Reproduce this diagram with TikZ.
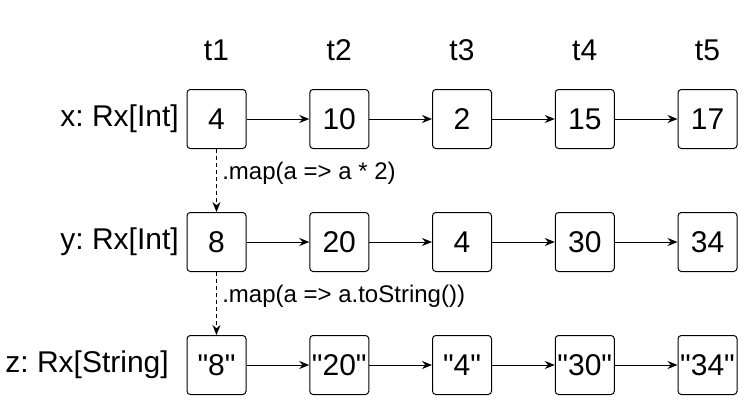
\documentclass[tikz,border=0pt]{standalone}
\usepackage{fontspec}
\setmainfont{Liberation Sans}[Ligatures=TeXOff]
\usetikzlibrary{arrows.meta}
\frenchspacing

\begin{document}
\begin{tikzpicture}[
    x=0.75pt, y=-0.75pt,
    font=\fontsize{22.5}{26}\selectfont,
    cell/.style={draw, line width=0.75pt, rounded corners=2.5pt, minimum size=44.25pt, inner sep=0pt},
    flow/.style={line width=0.75pt, -{Stealth[length=7.5pt, width=6pt, inset=2.5pt]}},
    mapflow/.style={flow, dash pattern=on 3pt off 2.25pt},
    maplabel/.style={anchor=west, inner sep=0pt, font=\fontsize{18}{21}\selectfont},
]
\useasboundingbox (0,0) rectangle (753,411);

% Grid parameters
\def\colw{122.75} % distance between time steps
\def\rowh{123}    % distance between streams
\def\xo{216.5}
\def\yo{119}

% Time labels
\foreach \c in {1,...,5} {
    \node (t\c) at ({\xo+(\c-1)*\colw}, 50) {t\c};
}

% Stream labels
\node[anchor=east, inner sep=0pt] (xlbl) at (179, \yo) {x: Rx[Int]};
\node[anchor=east, inner sep=0pt] (ylbl) at (179, \yo+\rowh) {y: Rx[Int]};
\node[anchor=east, inner sep=0pt] (zlbl) at (169, \yo+2*\rowh) {z: Rx[String]};

% x stream
\foreach \c/\val in {1/4, 2/10, 3/2, 4/15, 5/17} {
    \node[cell] (x\c) at ({\xo+(\c-1)*\colw}, \yo) {\val};
}

% y stream
\foreach \c/\val in {1/8, 2/20, 3/4, 4/30, 5/34} {
    \node[cell] (y\c) at ({\xo+(\c-1)*\colw}, \yo+\rowh) {\val};
}

% z stream
\foreach \c/\val in {1/"8", 2/"20", 3/"4", 4/"30", 5/"34"} {
    \node[cell] (z\c) at ({\xo+(\c-1)*\colw}, \yo+2*\rowh) {\val};
}

% Arrows in time
\foreach \row in {x,y,z} {
    \foreach \c [count=\n from 2] in {1,...,4} {
        \draw[flow] (\row\c) -- (\row\n);
    }
}

% map steps
\draw[mapflow] (x1) -- (y1);
\node[maplabel] (map1) at (222, 173) {.map(a => a * 2)};
\draw[mapflow] (y1) -- (z1);
\node[maplabel] (map2) at (222, 296) {.map(a => a.toString())};

\end{tikzpicture}
\end{document}
